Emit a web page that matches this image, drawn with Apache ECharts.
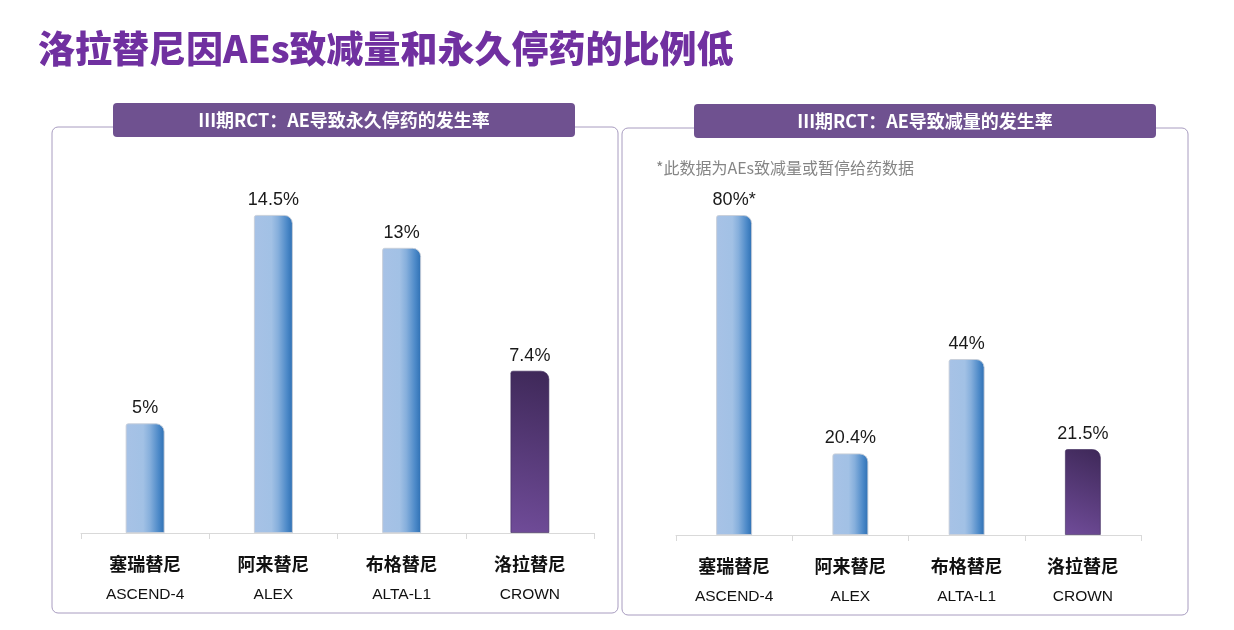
<!DOCTYPE html>
<html>
<head>
<meta charset="utf-8">
<style>
  html, body { margin: 0; padding: 0; background: #fff; }
  #chart { width: 1234px; height: 630px; }
</style>
<script src="https://cdn.jsdelivr.net/npm/echarts@6/dist/echarts.min.js"></script>
</head>
<body>
<div id="chart"></div>
<script>
// 药物与试验名称
const drugs = ['塞瑞替尼', '阿来替尼', '布格替尼', '洛拉替尼']
const trials = ['ASCEND-4', 'ALEX', 'ALTA-L1', 'CROWN']
// AE导致永久停药 (%)
const discontinuation = [5, 14.5, 13, 7.4]
const discontinuationLabels = ['5%', '14.5%', '13%', '7.4%']
// AE导致减量 (%)
const reduction = [80, 20.4, 44, 21.5]
const reductionLabels = ['80%*', '20.4%', '44%', '21.5%']

const cjk = '"Noto Sans CJK SC", "Noto Sans", sans-serif'
const latin = '"Liberation Sans", Arial, "Noto Sans CJK SC", sans-serif'

const blueBar = new echarts.graphic.LinearGradient(0, 0, 1, 0, [
  { offset: 0, color: '#a7c2e6' },
  { offset: 0.45, color: '#a2c1e5' },
  { offset: 0.62, color: '#86afdc' },
  { offset: 0.85, color: '#4c89c8' },
  { offset: 1, color: '#2d6fb3' }
])
const purpleBar = new echarts.graphic.LinearGradient(0, 1, 1, 0, [
  { offset: 0, color: '#704c99' },
  { offset: 1, color: '#3e2858' }
])

const barStyle = (i) => ({
  color: i === 3 ? purpleBar : blueBar,
  borderColor: i === 3 ? 'rgba(60,40,90,0.6)' : 'rgba(200,206,216,0.9)',
  borderWidth: 1,
  borderRadius: [2, 8, 0, 0]
})

const categoryLabels = drugs.map((d, i) => d + '\n' + trials[i])

const xAxisBase = (gridIndex) => ({
  type: 'category',
  gridIndex,
  data: categoryLabels,
  axisLine: { lineStyle: { color: '#d9d9d9', width: 1 } },
  axisTick: { show: true, length: 6, lineStyle: { color: '#d9d9d9' } },
  axisLabel: {
    margin: 17,
    formatter: (v) => {
      const [a, b] = v.split('\n')
      return '{a|' + a + '}\n{b|' + b + '}'
    },
    rich: {
      a: { fontFamily: cjk, fontWeight: 'bold', fontSize: 18, color: '#111', lineHeight: 29 },
      b: { fontFamily: latin, fontSize: 15.5, color: '#111', lineHeight: 31 }
    }
  }
})

const labelStyle = (labels) => ({
  show: true,
  position: 'top',
  distance: 6,
  fontFamily: latin,
  fontSize: 18,
  color: '#1a1a1a',
  formatter: (p) => labels[p.dataIndex]
})

const chart = echarts.init(document.getElementById('chart'))

chart.setOption({
  backgroundColor: '#fff',
  animation: false,
  title: {
    text: '洛拉替尼因AEs致减量和永久停药的比例低',
    left: 33,
    top: 25,
    textStyle: { fontFamily: cjk, fontWeight: 900, fontSize: 37, color: '#7030a0' }
  },
  graphic: [
    // 左侧面板
    { type: 'rect', z: -1, shape: { x: 52, y: 127, width: 566, height: 486, r: 6 },
      style: { fill: '#fff', stroke: '#a89cc0', lineWidth: 1 } },
    { type: 'rect', shape: { x: 113, y: 103, width: 462, height: 34, r: 4 },
      style: { fill: '#6f5190' } },
    { type: 'text', x: 344, y: 120,
      style: { text: 'III期RCT：AE导致永久停药的发生率', fill: '#fff', font: 'bold 18px ' + cjk,
        textAlign: 'center', textVerticalAlign: 'middle' } },
    // 右侧面板
    { type: 'rect', z: -1, shape: { x: 622, y: 128, width: 566, height: 487, r: 6 },
      style: { fill: '#fff', stroke: '#a89cc0', lineWidth: 1 } },
    { type: 'rect', shape: { x: 694, y: 104, width: 462, height: 34, r: 4 },
      style: { fill: '#6f5190' } },
    { type: 'text', x: 925, y: 121,
      style: { text: 'III期RCT：AE导致减量的发生率', fill: '#fff', font: 'bold 18px ' + cjk,
        textAlign: 'center', textVerticalAlign: 'middle' } },
    { type: 'text', x: 656, y: 168,
      style: { text: '*此数据为AEs致减量或暂停给药数据', fill: '#858585', font: '16px ' + cjk,
        textVerticalAlign: 'middle' } }
  ],
  grid: [
    { left: 81, width: 513, top: 182, height: 351 },
    { left: 676, width: 465, top: 175, height: 360 }
  ],
  xAxis: [xAxisBase(0), xAxisBase(1)],
  yAxis: [
    { type: 'value', gridIndex: 0, min: 0, max: 16, show: false },
    { type: 'value', gridIndex: 1, min: 0, max: 90, show: false }
  ],
  series: [
    {
      name: 'AE导致永久停药',
      type: 'bar',
      xAxisIndex: 0,
      yAxisIndex: 0,
      barWidth: 39,
      data: discontinuation.map((v, i) => ({ value: v, itemStyle: barStyle(i) })),
      label: labelStyle(discontinuationLabels)
    },
    {
      name: 'AE导致减量',
      type: 'bar',
      xAxisIndex: 1,
      yAxisIndex: 1,
      barWidth: 36,
      data: reduction.map((v, i) => ({ value: v, itemStyle: barStyle(i) })),
      label: labelStyle(reductionLabels)
    }
  ]
})

window.addEventListener('resize', () => chart.resize())
</script>
</body>
</html>
